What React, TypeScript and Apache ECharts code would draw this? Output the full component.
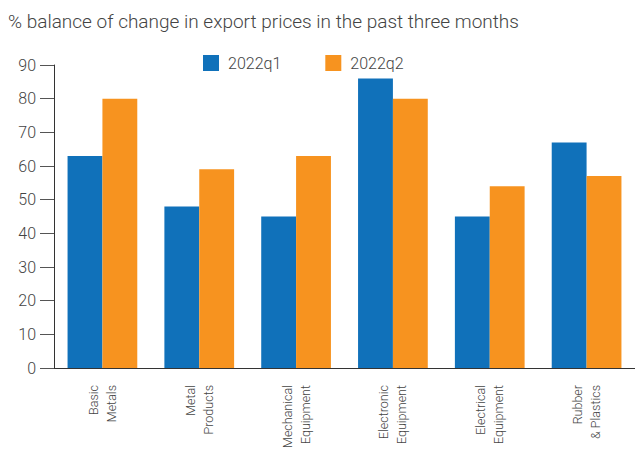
import React, { useEffect, useRef } from "react";
import * as echarts from "echarts";

const categories = [
  "Basic\nMetals",
  "Metal\nProducts",
  "Mechanical\nEquipment",
  "Electronic\nEquipment",
  "Electrical\nEquipment",
  "Rubber\n& Plastics",
];
const q1 = [63, 48, 45, 86, 45, 67];
const q2 = [80, 59, 63, 80, 54, 57];
const titleText = "% balance of change in export prices in the past three months";

export default function App() {
  const ref = useRef<HTMLDivElement>(null);
  useEffect(() => {
    const chart = echarts.init(ref.current!, null, { renderer: "svg" });
    const font = "Roboto";
    chart.setOption({
      animation: false,
      title: {
        text: titleText,
        left: 3,
        top: 7,
        textStyle: { fontFamily: font, fontWeight: 300, fontSize: 19, color: "#444" },
      },
      legend: {
        top: 55,
        left: 203,
        itemWidth: 16,
        itemHeight: 16,
        itemGap: 44,
        padding: 0,
        icon: "rect",
        textStyle: {
          fontFamily: font,
          fontWeight: 300,
          fontSize: 16,
          color: "#444",
          padding: [0, 0, 0, 4],
        },
      },
      grid: { left: 54, right: 0, top: 65, bottom: 81, containLabel: false, outerBoundsMode: "none" },
      xAxis: {
        type: "category",
        data: categories,
        axisLine: { lineStyle: { color: "#333" } },
        axisTick: { length: 22, lineStyle: { color: "#333" } },
        axisLabel: {
          rotate: 90,
          margin: 17,
          fontFamily: font,
          fontWeight: 300,
          fontSize: 12.5,
          lineHeight: 18,
          color: "#444",
          interval: 0,
        },
      },
      yAxis: {
        type: "value",
        min: 0,
        max: 90,
        interval: 10,
        axisLine: { show: true, lineStyle: { color: "#333" } },
        axisTick: { show: true, length: 14, lineStyle: { color: "#555" } },
        splitLine: { show: false },
        axisLabel: {
          margin: 18,
          fontFamily: font,
          fontWeight: 300,
          fontSize: 16,
          color: "#444",
        },
      },
      series: [
        {
          name: "2022q1",
          type: "bar",
          data: q1,
          itemStyle: { color: "#1071BA" },
          barGap: "0%",
          barCategoryGap: "28%",
        },
        {
          name: "2022q2",
          type: "bar",
          data: q2,
          itemStyle: { color: "#F7931F" },
          barGap: "0%",
          barCategoryGap: "28%",
        },
      ],
    });
    return () => chart.dispose();
  }, []);
  return <div ref={ref} style={{ width: 635, height: 449, position: "absolute", left: 0, top: 0 }} />;
}
